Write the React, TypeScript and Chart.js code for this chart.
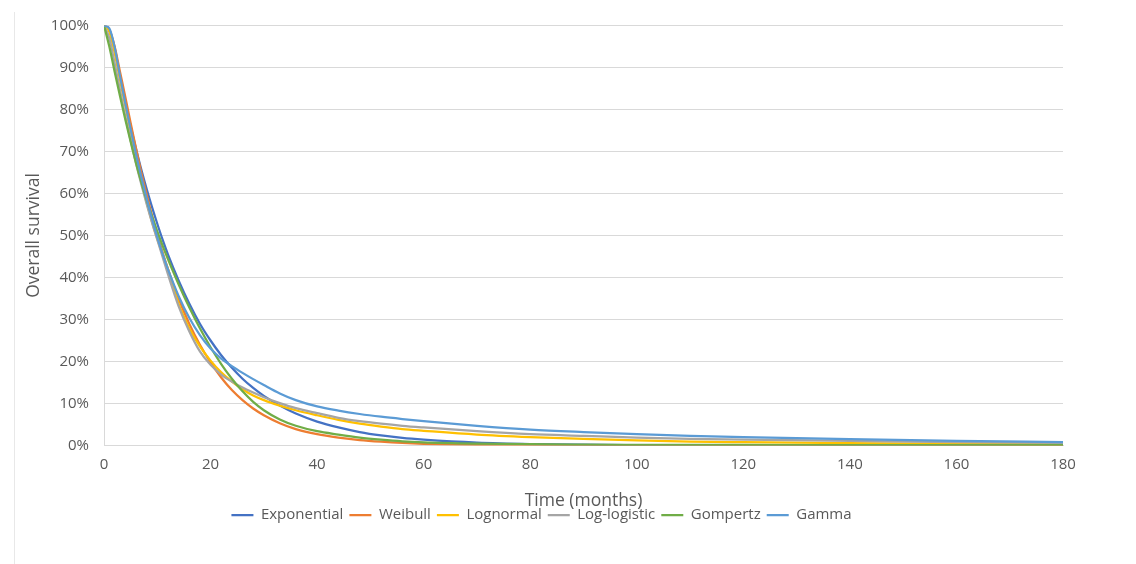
import React, { useEffect, useRef } from "react";
import { Chart, registerables } from "chart.js";

Chart.register(...registerables);

// Time points (months)
const months = [0, 1, 2, 3, 4, 5, 6, 7, 8, 9, 10, 11, 12, 14, 16, 18, 20, 22, 24, 26, 28, 30, 33, 36, 40, 44, 48, 52, 56, 60, 70, 80, 90, 100, 110, 120, 140, 160, 180];

// Overall survival (%) per model
const exponential = [100, 99, 94.5, 88, 81.8, 76, 70.7, 65.7, 61.1, 56.8, 52.8, 49, 45.5, 39.3, 33.8, 29, 25, 21.5, 18.5, 15.9, 13.7, 11.8, 9.5, 7.6, 5.7, 4.3, 3.2, 2.4, 1.8, 1.4, 0.7, 0.35, 0.18, 0.1, 0.05, 0.03, 0.01, 0, 0];
const weibull = [100, 99, 95, 89, 83, 76.8, 70.8, 65, 59.8, 54.8, 50.2, 46, 42, 35, 29, 24, 19.8, 16.2, 13.2, 10.8, 8.8, 7.2, 5.3, 3.9, 2.7, 1.9, 1.3, 0.9, 0.6, 0.4, 0.15, 0.06, 0.02, 0.01, 0, 0, 0, 0, 0];
const lognormal = [100, 98.5, 93.5, 87, 80.8, 74.5, 68.5, 63, 58, 53.3, 49.2, 45.5, 42, 33.8, 28, 23.6, 20.2, 17.4, 15.2, 13.4, 11.9, 10.8, 9.5, 8.4, 7.2, 6.1, 5.2, 4.5, 3.9, 3.5, 2.6, 2.0, 1.55, 1.2, 0.95, 0.8, 0.55, 0.4, 0.3];
const logLogistic = [100, 97, 91, 84.6, 78.4, 72.6, 67.2, 62.2, 57.5, 53.1, 49, 44.9, 40.8, 33.2, 27.2, 22.4, 19.2, 16.9, 15.2, 13.8, 12.6, 11.5, 10.1, 8.9, 7.7, 6.6, 5.8, 5.2, 4.7, 4.3, 3.4, 2.7, 2.3, 1.9, 1.6, 1.4, 1.1, 0.8, 0.6];
const gompertz = [100, 95, 89, 83.2, 77.6, 72.3, 67.3, 62.7, 58.5, 54.6, 51, 47.6, 44.4, 38.4, 32.9, 27.9, 23.4, 19.4, 15.9, 12.9, 10.4, 8.4, 6.2, 4.7, 3.4, 2.6, 1.9, 1.4, 1.0, 0.75, 0.45, 0.3, 0.22, 0.17, 0.14, 0.12, 0.1, 0.1, 0.1];
const gamma = [100, 99.3, 94.8, 88, 81.5, 75.3, 69.4, 63.9, 58.8, 54, 49.6, 45.6, 42, 35.6, 30.4, 26.3, 23.1, 20.7, 18.9, 17.3, 15.8, 14.4, 12.4, 10.8, 9.3, 8.3, 7.5, 6.85, 6.3, 5.8, 4.7, 3.8, 3.2, 2.7, 2.3, 2.0, 1.5, 1.1, 0.8];

const seriesNames = ["Exponential", "Weibull", "Lognormal", "Log-logistic", "Gompertz", "Gamma"];
const seriesValues = [exponential, weibull, lognormal, logLogistic, gompertz, gamma];
const seriesColors = ["#4472C4", "#ED7D31", "#FFC000", "#A5A5A5", "#70AD47", "#5B9BD5"];

const xTitle = "Time (months)";
const yTitle = "Overall survival";

const textColor = "#595959";
const gridColor = "#D9D9D9";

export default function App() {
  const canvasRef = useRef<HTMLCanvasElement | null>(null);

  useEffect(() => {
    document.body.style.margin = "0";
    const canvas = canvasRef.current;
    if (!canvas) return;
    Chart.defaults.font.family = "'Open Sans', sans-serif";

    const datasets = seriesValues.map((vals, i) => ({
      label: seriesNames[i],
      data: months.map((m, j) => ({ x: m, y: vals[j] })),
      borderColor: seriesColors[i],
      backgroundColor: seriesColors[i],
      borderWidth: 2.25,
      pointRadius: 0,
      pointHoverRadius: 0,
      cubicInterpolationMode: "monotone" as const,
      fill: false,
      order: seriesNames.length - i,
    }));

    const chart = new Chart(canvas, {
      type: "line",
      data: { datasets },
      options: {
        responsive: false,
        animation: false,
        devicePixelRatio: 1,
        layout: { padding: { left: 20, right: 73, top: 25.5, bottom: 31.5 } },
        plugins: {
          tooltip: { enabled: false },
          legend: {
            position: "bottom",
            labels: {
              usePointStyle: true,
              pointStyle: "line",
              pointStyleWidth: 22,
              boxHeight: 2,
              padding: 6,
              color: textColor,
              font: { size: 15 },
              sort: (a: any, b: any) => a.datasetIndex - b.datasetIndex,
            },
          },
        },
        scales: {
          x: {
            type: "linear",
            min: 0,
            max: 180,
            ticks: { stepSize: 20, color: textColor, font: { size: 15 }, padding: 10, maxRotation: 0 },
            grid: { display: false, drawTicks: false },
            border: { display: true, color: gridColor, width: 1 },
            title: { display: true, text: xTitle, color: textColor, font: { size: 17.5 }, padding: { top: 0, bottom: -10 } },
            afterFit: (s: any) => {
              s.height = 56;
            },
          },
          y: {
            min: 0,
            max: 100,
            ticks: { stepSize: 10, color: textColor, font: { size: 15 }, padding: 15, callback: (v: any) => v + "%" },
            grid: { color: gridColor, lineWidth: 1, drawTicks: false },
            border: { display: true, color: gridColor, width: 1 },
            title: { display: true, text: yTitle, color: textColor, font: { size: 17.5 }, padding: { top: 4, bottom: 0 } },
            afterFit: (s: any) => {
              s.width = 84;
            },
          },
        },
      },
    });
    return () => chart.destroy();
  }, []);

  return (
    <div style={{ position: "relative", width: 1136, height: 564, background: "#fff" }}>
      <div style={{ position: "absolute", left: 14, top: 12, width: 1, height: 552, background: "#E8E8E8" }} />
      <canvas ref={canvasRef} width={1136} height={564} style={{ display: "block" }} />
    </div>
  );
}
